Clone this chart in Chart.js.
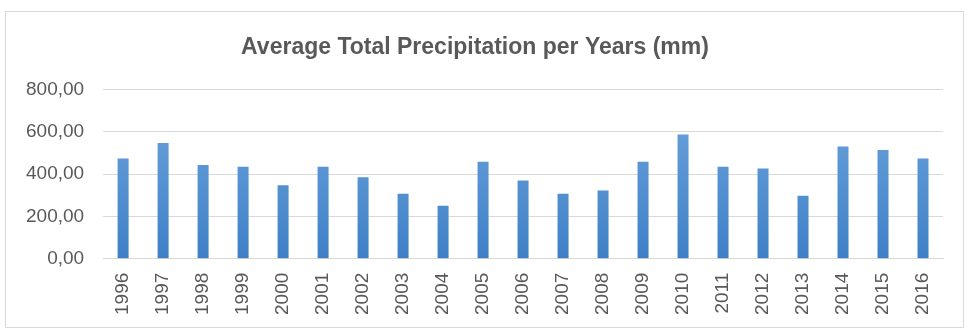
<!DOCTYPE html>
<html>
<head>
<meta charset="utf-8">
<script src="https://cdn.jsdelivr.net/npm/chart.js@4"></script>
<style>
  html, body { margin: 0; padding: 0; background: #fff; }
  #box {
    position: absolute; left: 5px; top: 11px;
    width: 957px; height: 315px;
    border: 1px solid #d9d9d9; background: #fff;
  }
</style>
</head>
<body>
<div id="box"><canvas id="chart"></canvas></div>
<script>
// data
const years = ['1996', '1997', '1998', '1999', '2000', '2001', '2002', '2003', '2004', '2005', '2006',
  '2007', '2008', '2009', '2010', '2011', '2012', '2013', '2014', '2015', '2016'];
const precipitation = [474, 547, 443, 435, 347, 435, 386, 307, 251, 459, 370,
  307, 323, 459, 588, 435, 427, 298, 531, 514, 474];
const yTicks = [0, 200, 400, 600, 800];

const textColor = '#595959';
const gridColor = '#d9d9d9';

// vertical blue gradient like the office bar fill
function barFill(ctx) {
  const area = ctx.chart.chartArea;
  if (!area) return '#5b9bd5';
  const g = ctx.chart.ctx.createLinearGradient(0, area.top, 0, area.bottom);
  g.addColorStop(0, '#71a7de');
  g.addColorStop(1, '#3e80c6');
  return g;
}

const ctx = document.getElementById('chart');
new Chart(ctx, {
  type: 'bar',
  data: {
    labels: years,
    datasets: [{
      label: 'Average Total Precipitation',
      data: precipitation,
      backgroundColor: barFill,
      borderWidth: 0,
      categoryPercentage: 0.55,
      barPercentage: 0.5,
    }]
  },
  options: {
    responsive: true,
    maintainAspectRatio: false,
    animation: false,
    layout: { padding: { left: 1, right: 20, top: 0, bottom: 6 } },
    plugins: {
      legend: { display: false },
      tooltip: { enabled: false },
      title: {
        display: true,
        text: 'Average Total Precipitation per Years (mm)',
        color: textColor,
        font: { family: 'Liberation Sans', size: 23, weight: 'bold' },
        padding: { top: 22, bottom: 28 },
      },
    },
    scales: {
      x: {
        grid: { display: false },
        border: { display: true, color: gridColor },
        ticks: {
          color: textColor,
          font: { family: 'Liberation Sans', size: 19 },
          maxRotation: 90,
          minRotation: 90,
          padding: 6,
        },
      },
      y: {
        min: 0,
        max: 800,
        afterBuildTicks: (axis) => { axis.ticks = yTicks.map(v => ({ value: v })); },
        grid: { color: gridColor, drawTicks: false },
        border: { display: false },
        ticks: {
          color: textColor,
          font: { family: 'Liberation Sans', size: 19 },
          padding: 19,
          callback: (v) => v.toFixed(2).replace('.', ','),
        },
      },
    },
  }
});
</script>
</body>
</html>
